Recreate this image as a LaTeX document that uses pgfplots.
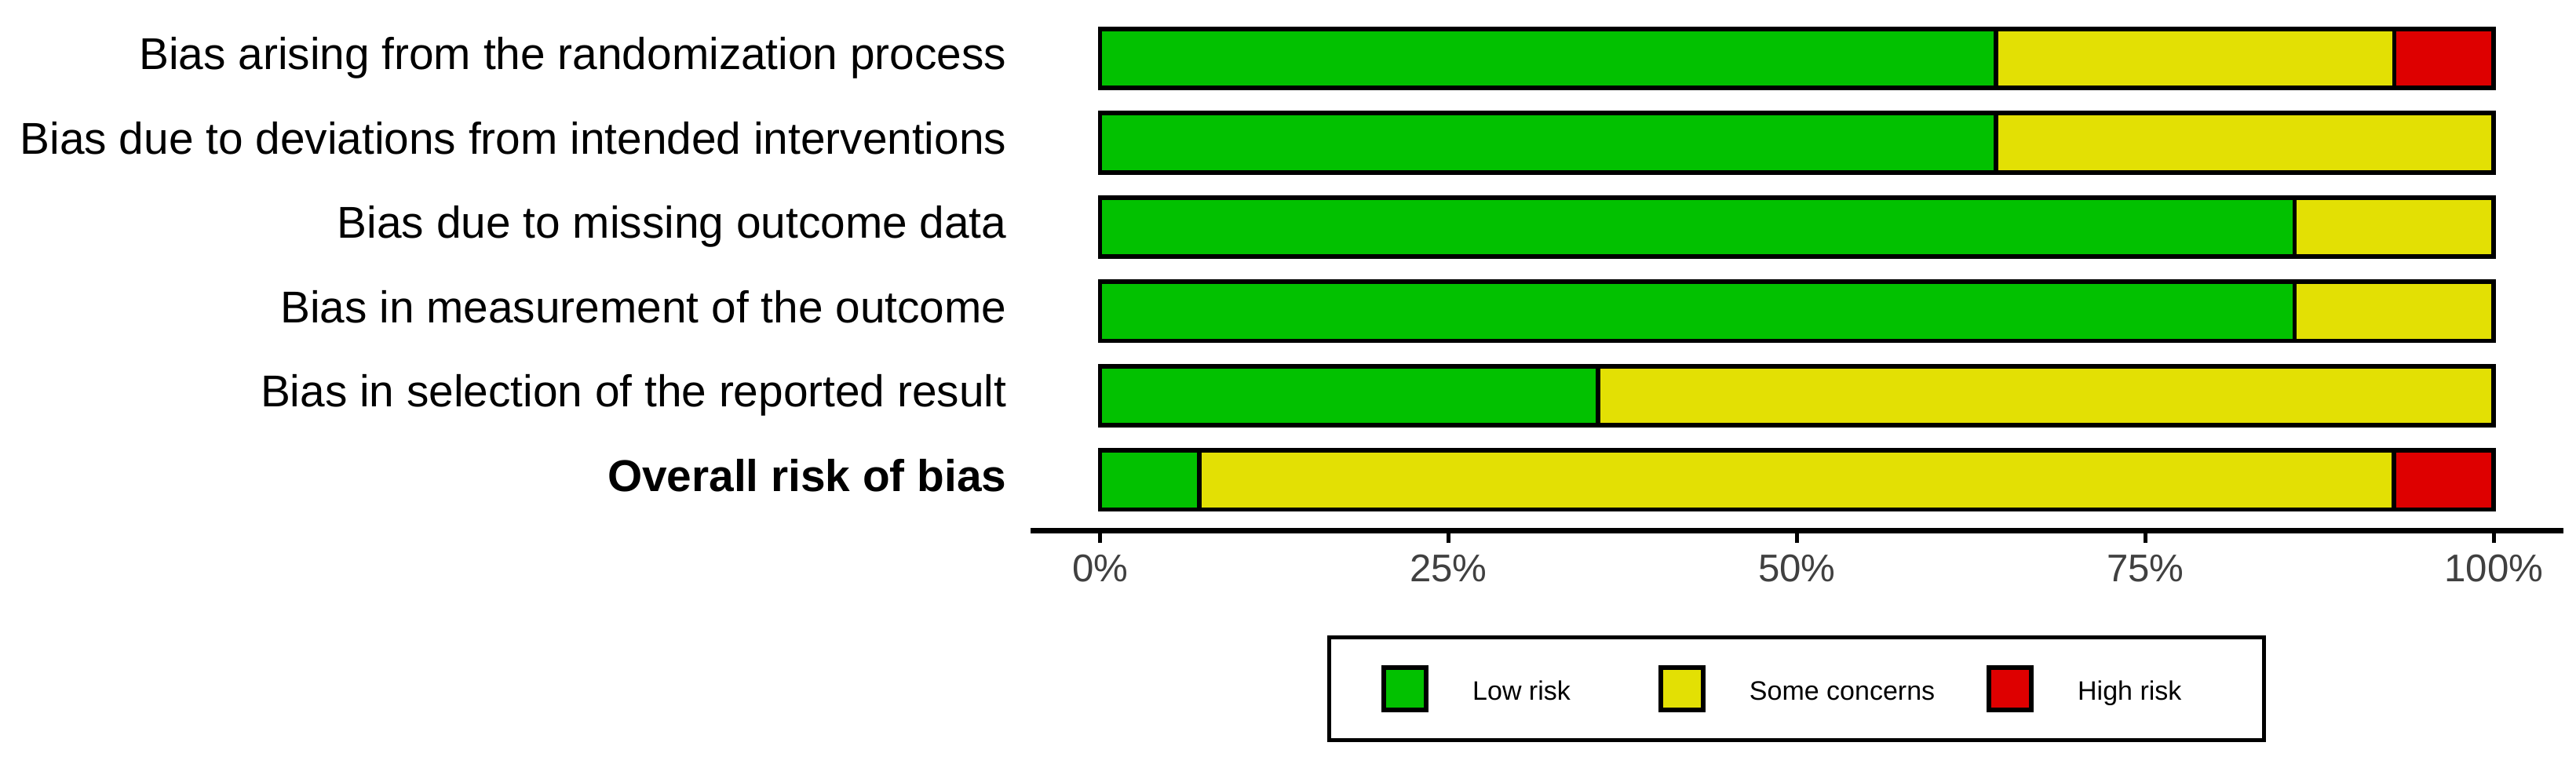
\documentclass[border=0pt]{standalone}
\usepackage{fontspec}
\setmainfont{Liberation Sans}
\usepackage{pgfplots}
\pgfplotsset{compat=1.18}

\definecolor{lowrisk}{RGB}{2,193,0}
\definecolor{somecon}{RGB}{227,224,4}
\definecolor{highrisk}{RGB}{222,0,0}

\begin{document}
\begin{tikzpicture}
\begin{axis}[
    scale only axis,
    width=488.3pt, height=166.6pt,
    xbar stacked,
    bar width=0.7,
    xmin=-5, xmax=105,
    ymin=0.4, ymax=6.6,
    axis x line*=bottom,
    axis y line*=left,
    y axis line style={draw=none},
    x axis line style={line width=1.65pt},
    tick align=outside,
    major tick length=4pt,
    xtick={0,25,50,75,100},
    xticklabels={0\%,25\%,50\%,75\%,100\%},
    xtick style={line width=1.3pt, black},
    xticklabel style={font=\fontsize{12.3}{14}\selectfont, text=black!75, anchor=north, inner sep=0pt, yshift=-3.6pt},
    ytick={1,...,6},
    ytick style={draw=none},
    yticklabels={\textbf{Overall risk of bias},
        Bias in selection of the reported result,
        Bias in measurement of the outcome,
        Bias due to missing outcome data,
        Bias due to deviations from intended interventions,
        Bias arising from the randomization process},
    yticklabel style={font=\fontsize{14.2}{16}\selectfont, anchor=east, inner sep=0pt, text height=0.72em, text depth=0pt, xshift=-3.4pt},
    every axis plot post/.append style={draw=black, line width=1.45pt,
        legend image code/.code={\draw[##1, line width=1.45pt] (0pt,-6.75pt) rectangle (13.5pt,6.75pt);}},
    legend columns=3,
    legend style={at={(0.5,-0.3025)}, anchor=center, draw=black, line width=1.25pt,
        inner xsep=16.6pt, inner ysep=8.8pt, column sep=0pt,
        nodes={inner sep=0pt, text height=0.72em, text depth=0pt, font=\fontsize{8.5}{10}\selectfont}},
]

% Low risk
\addplot[fill=lowrisk] coordinates {
    (7.14,1) (35.71,2) (85.71,3) (85.71,4) (64.29,5) (64.29,6)
};
\addlegendentry{\makebox[73.25pt][l]{\hspace*{14pt}Low risk}}

% Some concerns
\addplot[fill=somecon] coordinates {
    (85.71,1) (64.29,2) (14.29,3) (14.29,4) (35.71,5) (28.57,6)
};
\addlegendentry{\makebox[89.6pt][l]{\hspace*{14pt}Some concerns}}

% High risk
\addplot[fill=highrisk] coordinates {
    (7.14,1) (0,2) (0,3) (0,4) (0,5) (7.14,6)
};
\addlegendentry{\makebox[56.8pt][l]{\hspace*{14pt}High risk}}

\coordinate (pSW) at (rel axis cs:0,0);
\coordinate (pNE) at (rel axis cs:1,1);
\end{axis}
\pgfresetboundingbox
\path ([xshift=-328.2pt,yshift=-72.1pt]pSW) rectangle ([xshift=4pt,yshift=2.5pt]pNE);
\end{tikzpicture}
\end{document}
